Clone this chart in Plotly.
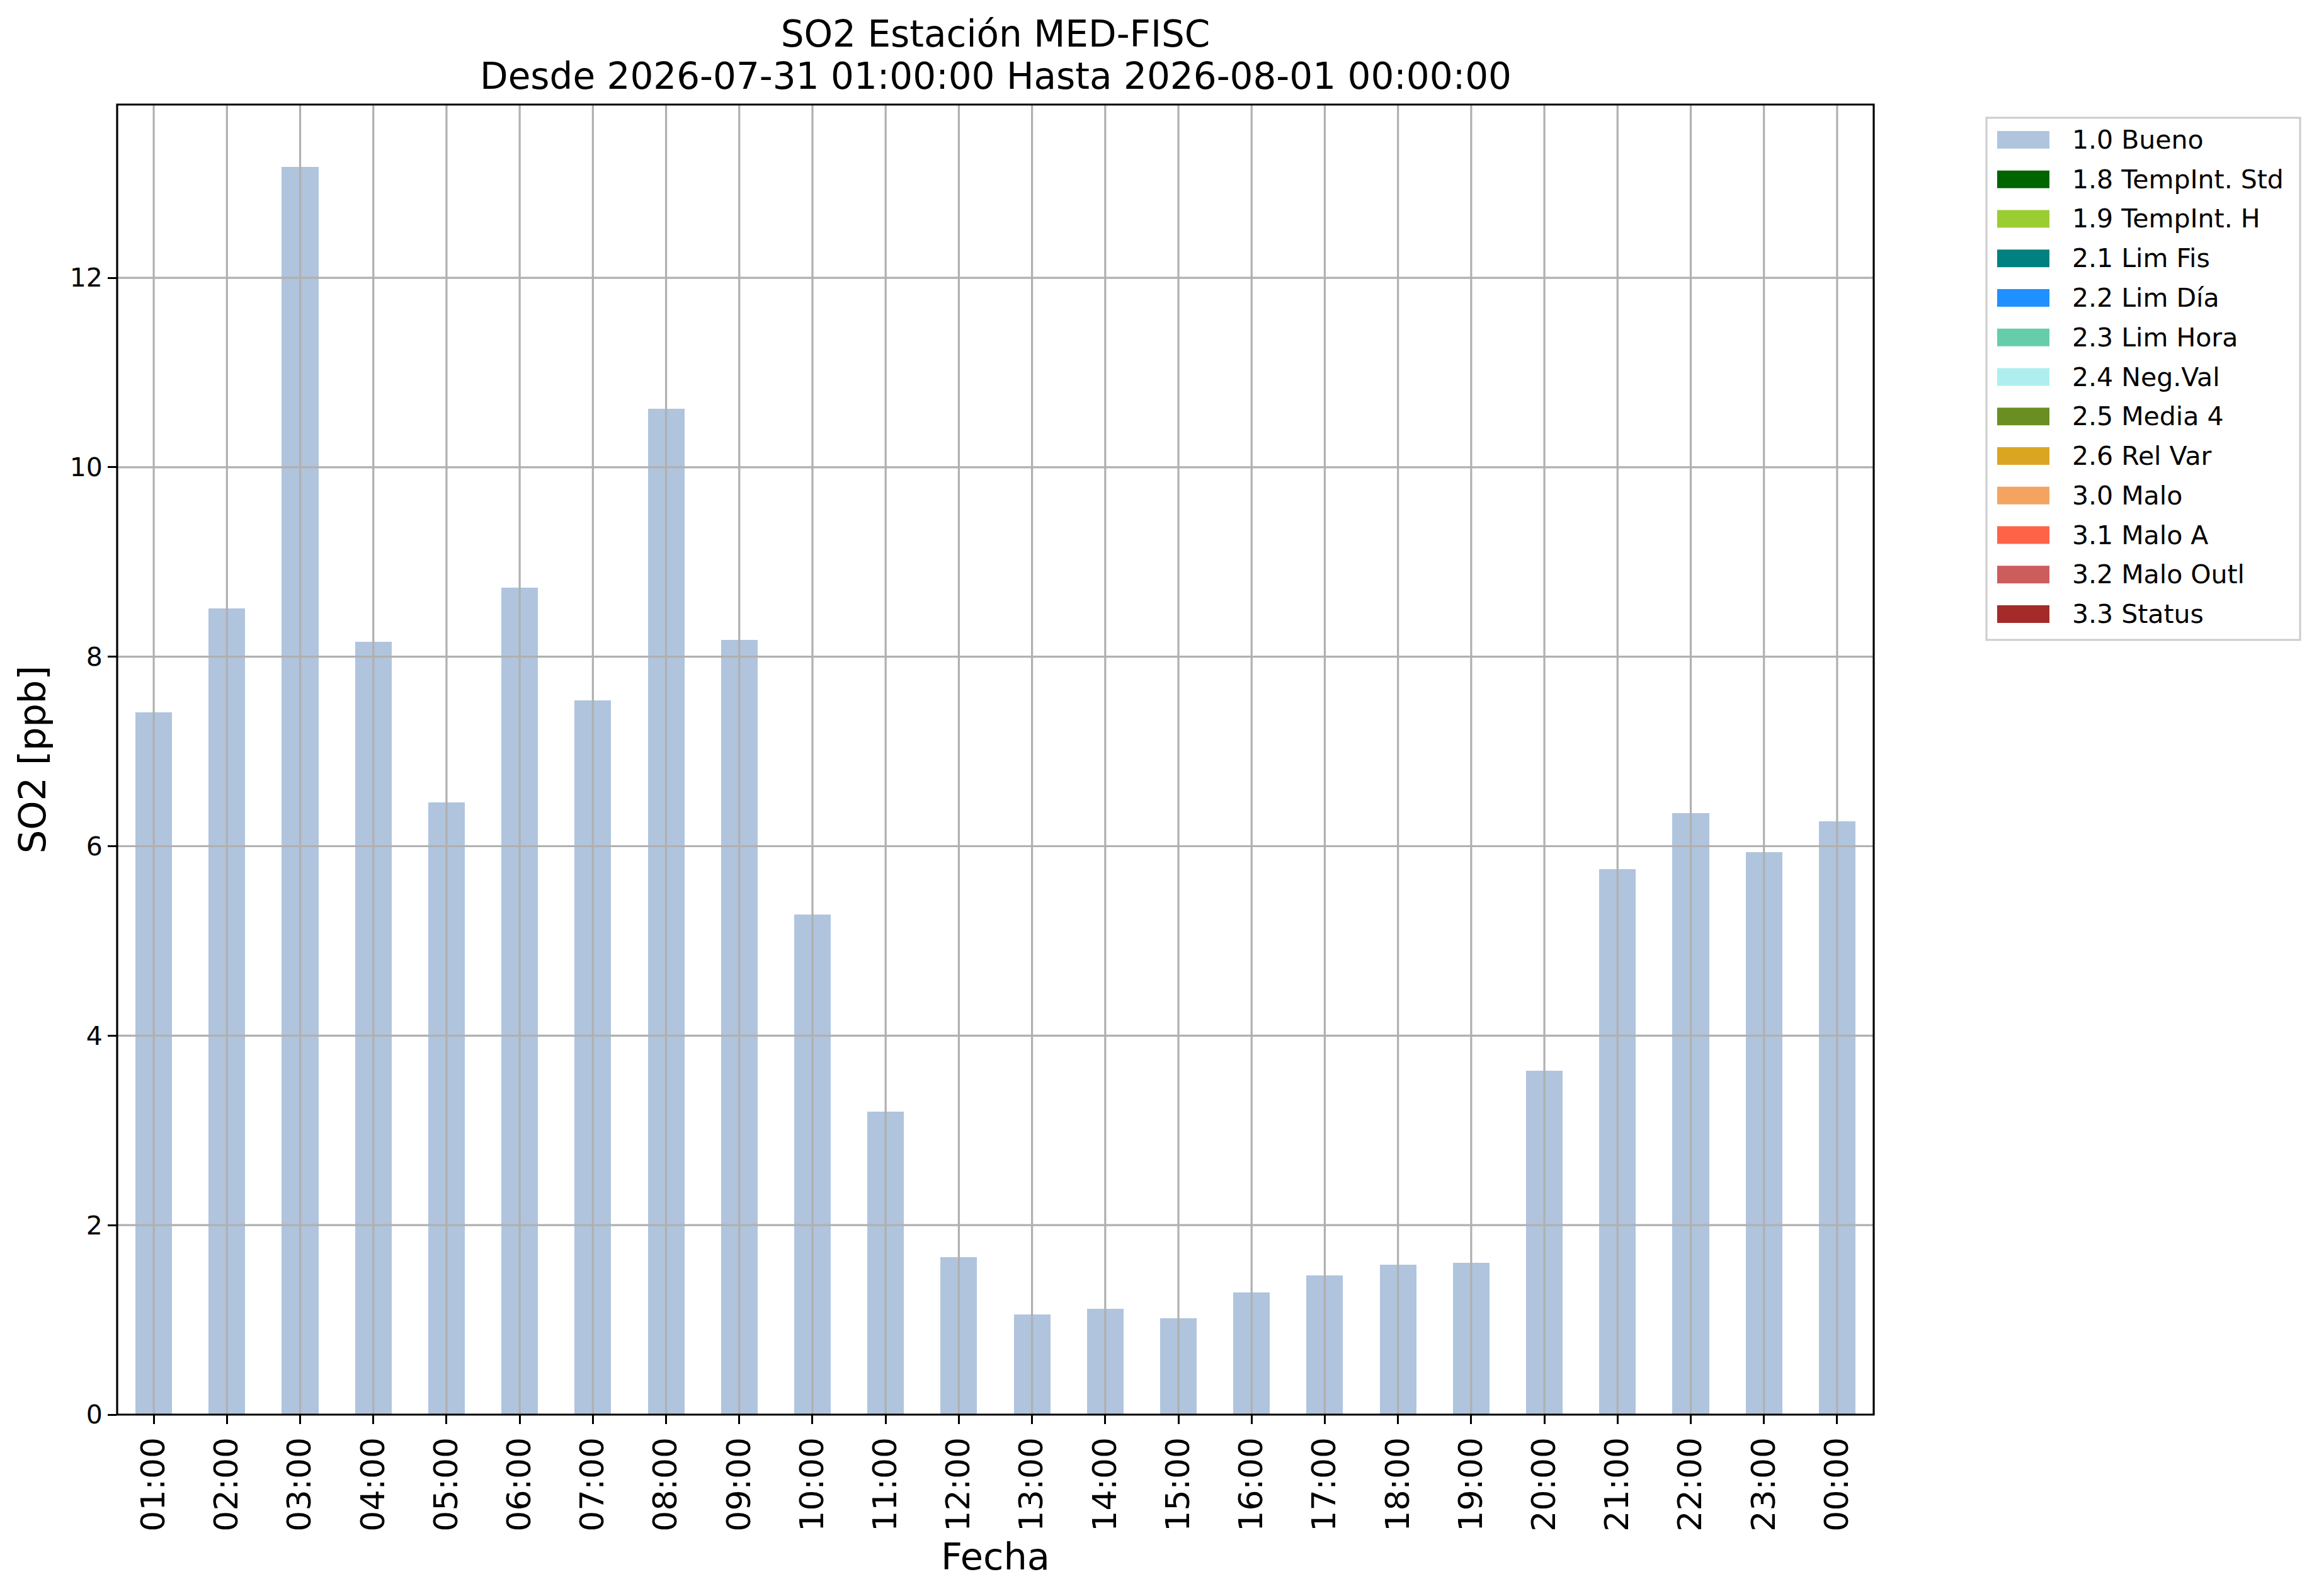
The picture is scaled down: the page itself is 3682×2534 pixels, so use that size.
import plotly.graph_objects as go

# hourly SO2 means for the day (ppb), all flagged "1.0 Bueno"
hours = [
    "01:00", "02:00", "03:00", "04:00", "05:00", "06:00", "07:00", "08:00",
    "09:00", "10:00", "11:00", "12:00", "13:00", "14:00", "15:00", "16:00",
    "17:00", "18:00", "19:00", "20:00", "21:00", "22:00", "23:00", "00:00",
]
so2 = [
    7.41, 8.51, 13.17, 8.16, 6.46, 8.73, 7.54, 10.62,
    8.18, 5.28, 3.20, 1.66, 1.06, 1.12, 1.02, 1.29,
    1.47, 1.58, 1.60, 3.63, 5.76, 6.35, 5.94, 6.26,
]
y_ticks = [0, 2, 4, 6, 8, 10, 12]

flag_labels = [
    "1.0 Bueno", "1.8 TempInt. Std", "1.9 TempInt. H", "2.1 Lim Fis",
    "2.2 Lim Día", "2.3 Lim Hora", "2.4 Neg.Val", "2.5 Media 4",
    "2.6 Rel Var", "3.0 Malo", "3.1 Malo A", "3.2 Malo Outl", "3.3 Status",
]
flag_colors = [
    "#b0c4de", "#006400", "#9acd32", "#008080", "#1e90ff", "#66cdaa",
    "#afeeee", "#6b8e23", "#daa520", "#f4a460", "#ff6347", "#cd5c5c",
    "#a52a2a",
]

title_1 = "SO2 Estación MED-FISC"
title_2 = "Desde 2026-07-31 01:00:00 Hasta 2026-08-01 00:00:00"

# the page body adds an 8px margin, so work in screen pixels minus that
OFF = 8
W, H = 3682 - OFF, 2534 - OFF
ML, MT = 186 - OFF, 166 - OFF
MR, MB = 707, 288
PW, PH = W - ML - MR, H - MT - MB
FONT = "DejaVu Sans"
GRID = "#b0b0b0"
LW = 3.2


def px_x(p):
    return (p - OFF - ML) / PW


def px_y(p):
    return 1 - (p - OFF - MT) / PH


fig = go.Figure()
fig.add_trace(
    go.Bar(
        x=hours,
        y=so2,
        name=flag_labels[0],
        marker=dict(color=flag_colors[0], line=dict(width=0)),
        width=0.5,
        showlegend=False,
    )
)

y_max = max(so2) * 1.05
shapes = []
# grid drawn over the bars, like the original
for h in hours:
    shapes.append(dict(type="line", xref="x", yref="y domain", x0=h, x1=h, y0=0, y1=1,
                       line=dict(color=GRID, width=LW), layer="above"))
for t in y_ticks[1:]:
    shapes.append(dict(type="line", xref="x domain", yref="y", x0=0, x1=1, y0=t, y1=t,
                       line=dict(color=GRID, width=LW), layer="above"))
# axes frame
shapes.append(dict(type="rect", xref="x domain", yref="y domain", x0=0, x1=1, y0=0, y1=1,
                   line=dict(color="black", width=LW), layer="above"))

# legend box drawn by hand (wide matplotlib-style patches)
shapes.append(dict(type="rect", xref="paper", yref="paper",
                   x0=px_x(3154), x1=px_x(3652), y0=px_y(187), y1=px_y(1016),
                   line=dict(color="#cccccc", width=3), fillcolor="white", layer="above"))
annotations = []
for i, (lab, col) in enumerate(zip(flag_labels, flag_colors)):
    yc = 222 + 62.75 * i
    shapes.append(dict(type="rect", xref="paper", yref="paper",
                       x0=px_x(3171), x1=px_x(3254), y0=px_y(yc - 14), y1=px_y(yc + 14),
                       line=dict(width=0), fillcolor=col, layer="above"))
    annotations.append(dict(text=lab, xref="paper", yref="paper", x=px_x(3288), y=px_y(yc),
                            xanchor="left", yanchor="middle", showarrow=False,
                            font=dict(family=FONT, size=41, color="black")))

annotations.append(dict(text=title_2, xref="paper", yref="paper", x=0.5, y=px_y(121),
                        xanchor="center", yanchor="middle", showarrow=False,
                        font=dict(family=FONT, size=58, color="black")))

fig.update_layout(
    width=W,
    height=H,
    margin=dict(l=ML, r=MR, t=MT, b=MB, autoexpand=False),
    paper_bgcolor="white",
    plot_bgcolor="white",
    font=dict(family=FONT, color="black"),
    title=dict(text=title_1, x=0.5, xref="paper", xanchor="center",
               y=1 - (54 - OFF) / H, yref="container", yanchor="middle",
               font=dict(family=FONT, size=58, color="black")),
    bargap=0,
    shapes=shapes,
    annotations=annotations,
    showlegend=False,
)
fig.update_xaxes(
    type="category",
    categoryorder="array",
    categoryarray=hours,
    range=[-0.5, len(hours) - 0.5],
    showgrid=False,
    showline=False,
    zeroline=False,
    ticks="outside",
    ticklen=14,
    tickwidth=LW,
    tickcolor="black",
    tickangle=-90,
    tickfont=dict(family=FONT, size=52, color="black"),
    title=dict(text="Fecha", font=dict(family=FONT, size=59, color="black"), standoff=20),
)
fig.update_yaxes(
    range=[0, y_max],
    tickvals=y_ticks,
    showgrid=False,
    showline=False,
    zeroline=False,
    ticks="outside",
    ticklen=14,
    tickwidth=LW,
    tickcolor="black",
    tickfont=dict(family=FONT, size=41, color="black"),
    title=dict(text="SO2 [ppb]", font=dict(family=FONT, size=59, color="black"), standoff=18),
)

fig.write_html("out.html")
